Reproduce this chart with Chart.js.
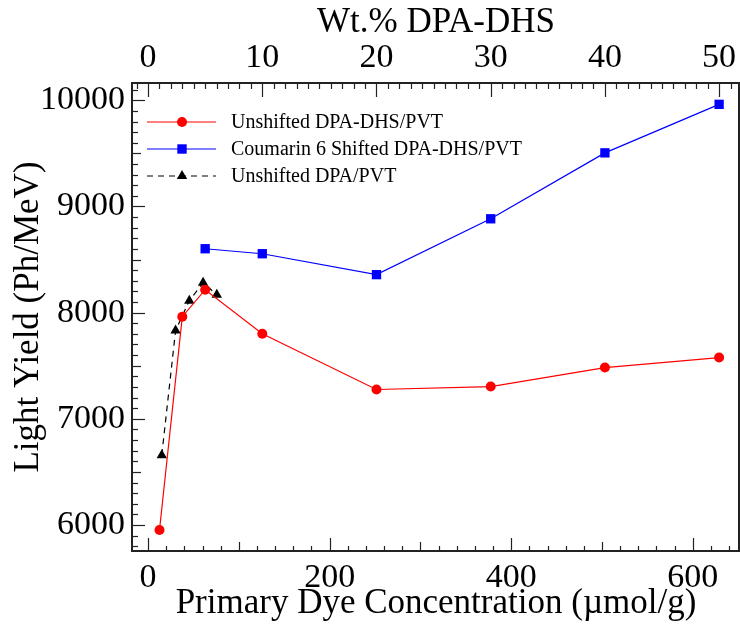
<!DOCTYPE html>
<html>
<head>
<meta charset="utf-8">
<script src="https://cdn.jsdelivr.net/npm/chart.js@4/dist/chart.umd.min.js"></script>
<style>
  html, body { margin: 0; padding: 0; background: #fff; }
  #wrap { width: 740px; height: 625px; }
</style>
</head>
<body>
<div id="wrap"><canvas id="chart" width="740" height="625"></canvas></div>
<script>
// x in umol/g, y in Ph/MeV
const dhsConc = [12.6, 37.7, 62.9, 125.8, 251.6, 377.4, 503.2, 629.0];
const dhsUnshifted = [5953, 7962, 8216, 7802, 7276, 7304, 7483, 7577];
const c6Conc = [62.9, 125.8, 251.6, 377.4, 503.2, 629.0];
const c6Shifted = [8602, 8555, 8358, 8884, 9505, 9962];
const dpaConc = [15.1, 30.3, 45.4, 60.6, 75.7];
const dpaUnshifted = [6658, 7831, 8113, 8282, 8169];

const seriesLabels = ['Unshifted DPA-DHS/PVT', 'Coumarin 6 Shifted DPA-DHS/PVT', 'Unshifted DPA/PVT'];
const bottomTicks = [0, 200, 400, 600];
const topTicks = [0, 10, 20, 30, 40, 50];
const yTicks = [6000, 7000, 8000, 9000, 10000];

const UMOL_PER_WT = 12.58; // 1 wt.% DPA-DHS in umol/g
const X_MIN = -17.7, X_MAX = 652;
const Y_MIN = 5755, Y_MAX = 10163;

const FONT = 'Liberation Serif, Times New Roman, serif';

function toXY(xs, ys) {
    return xs.map((x, i) => ({ x: x, y: ys[i] }));
}

// inward tick marks + frame, like the original plotting program
const frameTicks = {
    id: 'frameTicks',
    afterDatasetsDraw(chart) {
        const ctx = chart.ctx;
        const a = chart.chartArea;
        ctx.save();
        ctx.strokeStyle = '#222';
        ctx.lineWidth = 1.2;

        function ticks(scale, minor, med, major, lens, side) {
            const n0 = Math.ceil(scale.min / minor), n1 = Math.floor(scale.max / minor);
            for (let n = n0; n <= n1; n++) {
                const v = n * minor;
                let len = lens[2];
                if (Math.abs(v / major - Math.round(v / major)) < 1e-6) len = lens[0];
                else if (med && Math.abs(v / med - Math.round(v / med)) < 1e-6) len = lens[1];
                const p = Math.round(scale.getPixelForValue(v)) + 0.5;
                ctx.beginPath();
                if (side == 'bottom') { ctx.moveTo(p, a.bottom); ctx.lineTo(p, a.bottom - len); }
                if (side == 'top') { ctx.moveTo(p, a.top); ctx.lineTo(p, a.top + len); }
                if (side == 'left') { ctx.moveTo(a.left, p); ctx.lineTo(a.left + len, p); }
                ctx.stroke();
            }
        }
        ticks(chart.scales.x, 20, 100, 200, [13, 9, 5], 'bottom');
        ticks(chart.scales.x2, 1, 0, 10, [14, 0, 6], 'top');
        ticks(chart.scales.y, 100, 500, 1000, [13, 9, 6], 'left');

        ctx.lineWidth = 2;
        ctx.strokeRect(a.left, a.top, a.right - a.left - 1, a.bottom - a.top);
        ctx.restore();
    }
};

// legend drawn inside the plot area, line + marker samples
const insideLegend = {
    id: 'insideLegend',
    afterDraw(chart) {
        const ctx = chart.ctx;
        const rows = [122, 149, 176];
        ctx.save();
        chart.data.datasets.forEach((ds, i) => {
            const y = rows[i];
            ctx.strokeStyle = ds.borderColor;
            ctx.lineWidth = ds.borderWidth;
            ctx.setLineDash(ds.borderDash || []);
            ctx.beginPath();
            ctx.moveTo(147, y);
            ctx.lineTo(216, y);
            ctx.stroke();
            ctx.setLineDash([]);
            ctx.fillStyle = ds.pointBackgroundColor;
            ctx.beginPath();
            const mx = 182;
            if (ds.pointStyle == 'circle') {
                ctx.arc(mx, y, 5, 0, Math.PI * 2);
            } else if (ds.pointStyle == 'rect') {
                ctx.rect(mx - 4.7, y - 4.7, 9.4, 9.4);
            } else {
                ctx.moveTo(mx, y - 6);
                ctx.lineTo(mx + 5.2, y + 3);
                ctx.lineTo(mx - 5.2, y + 3);
                ctx.closePath();
            }
            ctx.fill();
            ctx.fillStyle = '#000';
            ctx.font = '20px ' + FONT;
            ctx.textBaseline = 'middle';
            ctx.fillText(ds.label, 231, y + 1);
        });
        ctx.restore();
    }
};

function fitX(h) {
    return s => { s.height = h; s.paddingLeft = 0; s.paddingRight = 0; };
}

const ctx = document.getElementById('chart').getContext('2d');
const chart = new Chart(ctx, {
    type: 'scatter',
    data: {
        datasets: [
            {
                label: seriesLabels[0],
                data: toXY(dhsConc, dhsUnshifted),
                showLine: true,
                borderColor: '#ff0000',
                backgroundColor: '#ff0000',
                pointBackgroundColor: '#ff0000',
                pointBorderWidth: 0,
                borderWidth: 1.2,
                pointStyle: 'circle',
                pointRadius: 5,
                tension: 0
            },
            {
                label: seriesLabels[1],
                data: toXY(c6Conc, c6Shifted),
                showLine: true,
                borderColor: '#0000ff',
                backgroundColor: '#0000ff',
                pointBackgroundColor: '#0000ff',
                pointBorderWidth: 0,
                borderWidth: 1.2,
                pointStyle: 'rect',
                pointRadius: 6.6,
                tension: 0
            },
            {
                label: seriesLabels[2],
                data: toXY(dpaConc, dpaUnshifted),
                showLine: true,
                borderColor: '#000000',
                backgroundColor: '#000000',
                pointBackgroundColor: '#000000',
                pointBorderWidth: 0,
                borderWidth: 1.2,
                borderDash: [6, 5],
                pointStyle: 'triangle',
                pointRadius: 6,
                tension: 0
            }
        ]
    },
    options: {
        responsive: false,
        animation: false,
        layout: { padding: 0, autoPadding: false },
        plugins: {
            legend: { display: false },
            tooltip: { enabled: false }
        },
        scales: {
            x: {
                type: 'linear',
                position: 'bottom',
                min: X_MIN,
                max: X_MAX,
                afterFit: fitX(74),
                afterBuildTicks: s => { s.ticks = bottomTicks.map(v => ({ value: v })); },
                grid: { display: false, drawTicks: false },
                border: { display: false },
                ticks: { color: '#000', font: { family: FONT, size: 34 }, padding: 7, maxRotation: 0,
                         callback: v => String(v) },
                title: {
                    display: true,
                    text: 'Primary Dye Concentration (\u00b5mol/g)',
                    color: '#000',
                    font: { family: FONT, size: 35 },
                    padding: { top: 0, bottom: 0 }
                }
            },
            x2: {
                type: 'linear',
                position: 'top',
                min: X_MIN / UMOL_PER_WT,
                max: X_MAX / UMOL_PER_WT,
                afterFit: fitX(83),
                afterBuildTicks: s => { s.ticks = topTicks.map(v => ({ value: v })); },
                grid: { display: false, drawTicks: false },
                border: { display: false },
                ticks: { color: '#000', font: { family: FONT, size: 34 }, padding: 5, maxRotation: 0,
                         callback: v => String(v) },
                title: {
                    display: true,
                    text: 'Wt.% DPA-DHS',
                    color: '#000',
                    font: { family: FONT, size: 35 },
                    padding: { top: 2, bottom: 0 }
                }
            },
            y: {
                type: 'linear',
                min: Y_MIN,
                max: Y_MAX,
                afterFit: s => { s.width = 132; s.paddingTop = 0; s.paddingBottom = 0; },
                afterBuildTicks: s => { s.ticks = yTicks.map(v => ({ value: v })); },
                grid: { display: false, drawTicks: false },
                border: { display: false },
                ticks: { color: '#000', font: { family: FONT, size: 34 }, padding: 7,
                         callback: v => String(v) },
                title: {
                    display: true,
                    text: 'Light Yield (Ph/MeV)',
                    color: '#000',
                    font: { family: FONT, size: 35 },
                    padding: { top: 8, bottom: 0 }
                }
            }
        }
    },
    plugins: [frameTicks, insideLegend]
});
</script>
</body>
</html>
